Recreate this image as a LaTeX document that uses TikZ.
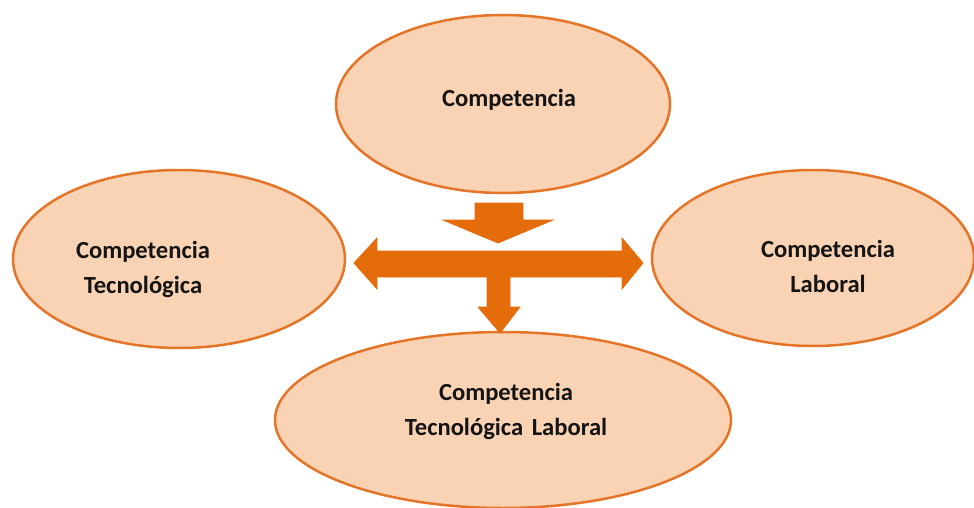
\documentclass[tikz,border=0pt]{standalone}
\usepackage{fontspec}
\setmainfont{Carlito}
\usetikzlibrary{shapes.geometric}
\definecolor{ellfill}{RGB}{250,211,181}
\definecolor{elldraw}{RGB}{228,116,40}
\definecolor{arrowfill}{RGB}{228,108,10}
\tikzset{
  oval/.style={ellipse, draw=elldraw, fill=ellfill, line width=2.5pt, inner sep=0pt},
  lbl/.style={font=\fontsize{24.6}{35}\selectfont\bfseries, align=center, text=black!92},
  blockarrow/.style={fill=arrowfill, draw=arrowfill, line width=0.8pt, line join=miter}
}
\begin{document}
\begin{tikzpicture}[x=1pt,y=-1pt]
\useasboundingbox (0,0) rectangle (974,508);
\node[oval, minimum width=334pt, minimum height=178pt] (top) at (503,104) {};
\node[oval, minimum width=332pt, minimum height=178pt] (left) at (179,259) {};
\node[oval, minimum width=322pt, minimum height=176pt] (right) at (813,258) {};
\node[oval, minimum width=456pt, minimum height=176pt] (bottom) at (503,420) {};
\node[lbl] (ttop) at (509,100) {Competencia};
\node[lbl] (tleft) at (143,269) {Competencia\\Tecnológica};
\node[lbl] (tright) at (828,266) {Competencia\\Laboral};
\node[lbl] (tbottom) at (506,411) {Competencia\\Tecnológica\hspace{3pt} Laboral};
\draw[blockarrow] (475,203) -- (523,203) -- (523,220) -- (553,220) -- (498,243) -- (443,220) -- (475,220) -- cycle;
\draw[blockarrow] (354,263) -- (377,238) -- (377,251) -- (622,251) -- (622,238) -- (643,263) -- (622,289) -- (622,277) -- (510,277) -- (510,307) -- (520,307) -- (500,333) -- (478,307) -- (487,307) -- (487,277) -- (377,277) -- (377,289) -- cycle;
\end{tikzpicture}
\end{document}
